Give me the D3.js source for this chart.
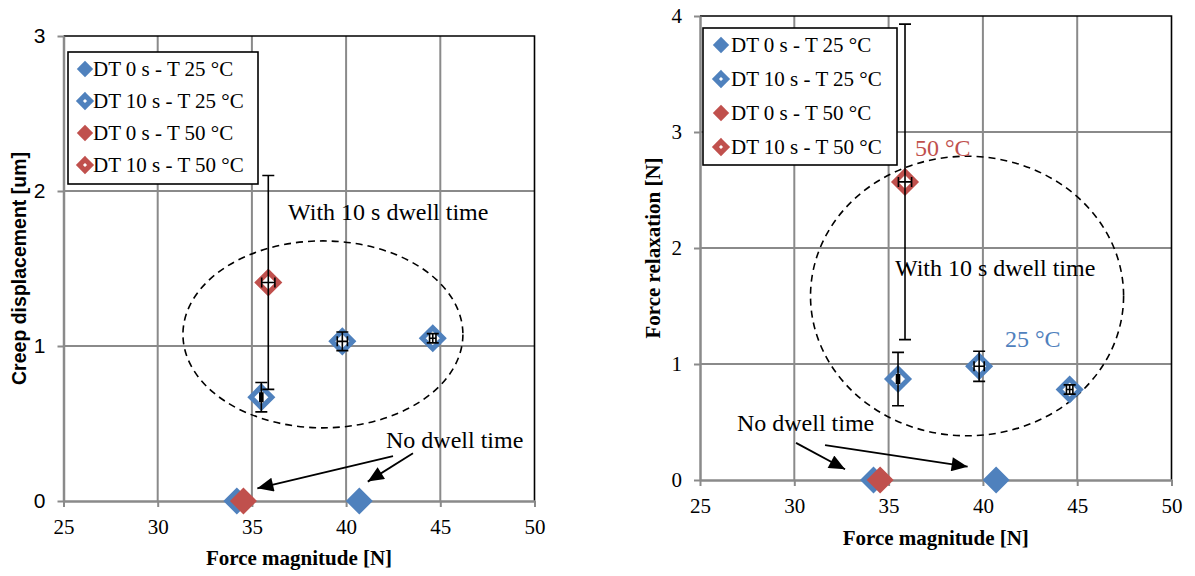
<!DOCTYPE html>
<html><head><meta charset="utf-8">
<script src="https://cdn.jsdelivr.net/npm/d3@7"></script>
<style>body{margin:0;background:#fff;} svg{display:block;}</style>
</head><body>
<svg id="chart" width="1195" height="576"></svg>
<script>
// ---------- data ----------
const seriesNames = ["DT 0 s - T 25 °C", "DT 10 s - T 25 °C", "DT 0 s - T 50 °C", "DT 10 s - T 50 °C"];
const xTicks = [25, 30, 35, 40, 45, 50];
const creepYTicks = [0, 1, 2, 3];
const relaxYTicks = [0, 1, 2, 3, 4];

// force magnitude [N]
const force0s25 = [34.2, 40.7];
const force10s25 = [35.5, 39.8, 44.6];
const forceErr10s25 = [0.08, 0.27, 0.17];
const force0s50 = [34.55];
const force10s50 = [35.87];
const forceErr10s50 = [0.35];

// creep displacement [um]
const creep0s25 = [0, 0];
const creep10s25 = [0.67, 1.03, 1.05];
const creepErr10s25 = [0.095, 0.06, 0.03];
const creep0s50 = [0];
const creep10s50 = [1.41];
const creepErr10s50 = [0.69];

// force relaxation [N]
const relax0s25 = [0, 0];
const relax10s25 = [0.87, 0.98, 0.78];
const relaxErr10s25 = [0.23, 0.13, 0.04];
const relax0s50 = [0];
const relax10s50 = [2.57];
const relaxErr10s50 = [1.36];

// ---------- style ----------
const BLUE = "#4f81bd", RED = "#c0504d", GRID = "#8a8a8a";
const SERIF = "'Liberation Serif','Times New Roman',serif";
const SANS = "'Liberation Sans',Arial,sans-serif";

const svg = d3.select("#chart");
const defs = svg.append("defs");
defs.append("marker").attr("id", "arrow").attr("markerUnits", "userSpaceOnUse")
  .attr("viewBox", "0 0 16 14").attr("refX", 16).attr("refY", 7)
  .attr("markerWidth", 17).attr("markerHeight", 14).attr("orient", "auto")
  .append("path").attr("d", "M0,0L16,7L0,14Z").attr("fill", "#000");

const diamond = r => `M0,${-r}L${r},0L0,${r}L${-r},0Z`;

function buildSeries(ys) {
  return [
    { name: seriesNames[0], color: BLUE, hollow: false, pts: force0s25.map((x, i) => ({ x, y: ys.y0s25[i] })) },
    { name: seriesNames[1], color: BLUE, hollow: true, pts: force10s25.map((x, i) => ({ x, y: ys.y10s25[i], xe: forceErr10s25[i], ye: ys.e10s25[i] })) },
    { name: seriesNames[2], color: RED, hollow: false, pts: force0s50.map((x, i) => ({ x, y: ys.y0s50[i] })) },
    { name: seriesNames[3], color: RED, hollow: true, pts: force10s50.map((x, i) => ({ x, y: ys.y10s50[i], xe: forceErr10s50[i], ye: ys.e10s50[i] })) }
  ];
}

function drawPanel(cfg) {
  const g = svg.append("g");
  const x = d3.scaleLinear().domain([25, 50]).range([cfg.left, cfg.right]);
  const y = d3.scaleLinear().domain([0, d3.max(cfg.yTicks)]).range([cfg.bottom, cfg.top]);

  // gridlines
  g.append("g").selectAll("line").data(xTicks.slice(1, -1)).join("line")
    .attr("x1", d => x(d)).attr("x2", d => x(d)).attr("y1", cfg.top).attr("y2", cfg.bottom)
    .attr("stroke", GRID).attr("stroke-width", 2);
  g.append("g").selectAll("line").data(cfg.yTicks.slice(1, -1)).join("line")
    .attr("y1", d => y(d)).attr("y2", d => y(d)).attr("x1", cfg.left).attr("x2", cfg.right)
    .attr("stroke", GRID).attr("stroke-width", 2);

  // plot border top/right
  g.append("path").attr("d", `M${cfg.left},${cfg.top}H${cfg.right}V${cfg.bottom}`)
    .attr("fill", "none").attr("stroke", "#000").attr("stroke-width", 1.6);

  // axes
  const xAxis = g.append("g").attr("transform", `translate(0,${cfg.bottom})`)
    .call(d3.axisBottom(x).tickValues(xTicks).tickFormat(d3.format("d")).tickSize(6).tickPadding(12).tickSizeOuter(0));
  xAxis.select(".domain").attr("stroke", GRID).attr("stroke-width", 2.5);
  xAxis.selectAll(".tick line").attr("stroke", GRID).attr("stroke-width", 2);
  xAxis.selectAll(".tick text").attr("font-family", SERIF).attr("font-size", 21).attr("fill", "#000");

  const yAxis = g.append("g").attr("transform", `translate(${cfg.left},0)`)
    .call(d3.axisLeft(y).tickValues(cfg.yTicks).tickFormat(d3.format("d")).tickSize(6).tickPadding(12).tickSizeOuter(0));
  yAxis.select(".domain").attr("stroke", GRID).attr("stroke-width", 2.5);
  yAxis.selectAll(".tick line").attr("stroke", GRID).attr("stroke-width", 2);
  yAxis.selectAll(".tick text").attr("font-family", cfg.yTickFont).attr("font-size", 21).attr("fill", "#000");

  // axis titles
  g.append("text").attr("x", (cfg.left + cfg.right) / 2).attr("y", cfg.xTitleY)
    .attr("text-anchor", "middle").attr("font-family", SERIF).attr("font-weight", "bold")
    .attr("font-size", 21).text("Force magnitude [N]");
  g.append("text").attr("transform", `translate(${cfg.yTitleX},${(cfg.top + cfg.bottom) / 2}) rotate(-90)`)
    .attr("text-anchor", "middle").attr("dy", "0.35em").attr("font-family", cfg.yTitleFont)
    .attr("font-weight", "bold").attr("font-size", cfg.yTitleSize).text(cfg.yTitle);

  // ellipse
  const e = cfg.ellipse;
  g.append("ellipse").attr("cx", x(e.cx)).attr("cy", y(e.cy))
    .attr("rx", x(e.cx + e.rx) - x(e.cx)).attr("ry", y(0) - y(e.ry))
    .attr("fill", "none").attr("stroke", "#000").attr("stroke-width", 1.6)
    .attr("stroke-dasharray", "7,5");

  // series
  cfg.series.forEach(s => {
    const sg = g.append("g");
    sg.selectAll("path.m").data(s.pts).join("path").attr("class", "m")
      .attr("transform", d => `translate(${x(d.x)},${y(d.y)})`)
      .attr("d", s.hollow ? diamond(10.5) : diamond(13.5))
      .attr("fill", s.hollow ? "#fff" : s.color)
      .attr("stroke", s.hollow ? s.color : "none")
      .attr("stroke-width", s.hollow ? 5 : 0);
    if (s.hollow) {
      const eb = sg.append("g").attr("stroke", "#000").attr("stroke-width", 1.6).attr("fill", "none");
      s.pts.forEach(d => {
        const cx = x(d.x), cy = y(d.y);
        const yt = y(d.y + d.ye), yb = y(d.y - d.ye);
        const xl = x(d.x - d.xe), xr = x(d.x + d.xe);
        eb.append("path").attr("d",
          `M${cx},${yt}V${yb}M${cx - 6},${yt}H${cx + 6}M${cx - 6},${yb}H${cx + 6}` +
          `M${xl},${cy}H${xr}M${xl},${cy - 5}V${cy + 5}M${xr},${cy - 5}V${cy + 5}`);
      });
    }
  });

  // annotations
  cfg.notes.forEach(n => {
    g.append("text").attr("x", x(n.x)).attr("y", y(n.y)).attr("font-family", SERIF)
      .attr("font-size", 24).attr("fill", n.color || "#000").text(n.text);
  });
  cfg.arrows.forEach(a => {
    g.append("line").attr("x1", x(a[0])).attr("y1", y(a[1])).attr("x2", x(a[2])).attr("y2", y(a[3]))
      .attr("stroke", "#000").attr("stroke-width", 1.8).attr("marker-end", "url(#arrow)");
  });

  // legend
  const L = cfg.legend;
  const lg = g.append("g");
  lg.append("rect").attr("x", L.x).attr("y", L.y).attr("width", L.w).attr("height", L.h)
    .attr("fill", "#fff").attr("stroke", "#000").attr("stroke-width", 1.6);
  cfg.series.forEach((s, i) => {
    const cy = L.y0 + i * L.step;
    lg.append("path").attr("transform", `translate(${L.mx},${cy})`)
      .attr("d", s.hollow ? diamond(5.6) : diamond(8.2))
      .attr("fill", s.hollow ? "#fff" : s.color)
      .attr("stroke", s.hollow ? s.color : "none").attr("stroke-width", s.hollow ? 5 : 0);
    lg.append("text").attr("x", L.tx).attr("y", cy).attr("dy", "0.35em")
      .attr("font-family", SERIF).attr("font-size", 21).text(s.name);
  });
}

drawPanel({
  left: 63.5, right: 534.5, top: 36, bottom: 501,
  yTicks: creepYTicks, yTickFont: SANS,
  yTitle: "Creep displacement [um]", yTitleFont: SANS, yTitleSize: 19.5, yTitleX: 19,
  xTitleY: 565,
  series: buildSeries({ y0s25: creep0s25, y10s25: creep10s25, e10s25: creepErr10s25, y0s50: creep0s50, y10s50: creep10s50, e10s50: creepErr10s50 }),
  ellipse: { cx: 38.77, cy: 1.075, rx: 7.43, ry: 0.603 },
  notes: [
    { text: "With 10 s dwell time", x: 36.92, y: 1.81 },
    { text: "No dwell time", x: 42.12, y: 0.34 }
  ],
  arrows: [[42.49, 0.29, 35.29, 0.082], [43.55, 0.308, 41.15, 0.125]],
  legend: { x: 68, y: 52, w: 190, h: 132, y0: 69, step: 32, mx: 85, tx: 93 }
});

drawPanel({
  left: 700, right: 1171.5, top: 16, bottom: 480,
  yTicks: relaxYTicks, yTickFont: SERIF,
  yTitle: "Force relaxation [N]", yTitleFont: SERIF, yTitleSize: 21, yTitleX: 653,
  xTitleY: 545,
  series: buildSeries({ y0s25: relax0s25, y10s25: relax10s25, e10s25: relaxErr10s25, y0s50: relax0s50, y10s50: relax10s50, e10s50: relaxErr10s50 }),
  ellipse: { cx: 39.16, cy: 1.586, rx: 8.3, ry: 1.205 },
  notes: [
    { text: "50 °C", x: 36.4, y: 2.79, color: RED },
    { text: "25 °C", x: 41.17, y: 1.147, color: BLUE },
    { text: "With 10 s dwell time", x: 35.34, y: 1.76 },
    { text: "No dwell time", x: 26.96, y: 0.42 }
  ],
  arrows: [[30.09, 0.32, 32.69, 0.092], [31.63, 0.30, 39.19, 0.115]],
  legend: { x: 703, y: 28, w: 194, h: 137, y0: 45, step: 34, mx: 721, tx: 731 }
});
</script>
</body></html>
